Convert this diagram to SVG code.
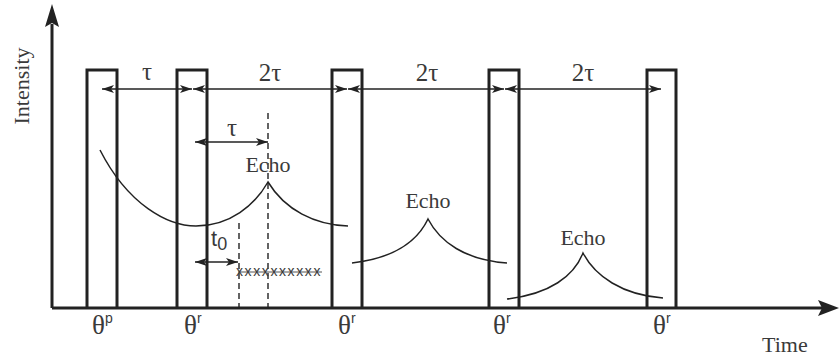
<svg xmlns="http://www.w3.org/2000/svg" width="839" height="360" viewBox="0 0 839 360">
<style>
.pulse{fill:none;stroke:#222;stroke-width:3}
.axis{fill:none;stroke:#222;stroke-width:3}
.dim{fill:none;stroke:#222;stroke-width:1.4}
.curve{fill:none;stroke:#222;stroke-width:1.5}
.dash{fill:none;stroke:#222;stroke-width:1.4;stroke-dasharray:6,4}
.serif{font-family:"Liberation Serif","Times New Roman",serif;fill:#3a3a3a}
.sans{font-family:"Liberation Sans",Arial,sans-serif;fill:#3a3a3a}
</style>
<defs>
<marker id="ah" viewBox="0 0 12 8" refX="12" refY="4" markerWidth="12" markerHeight="8" markerUnits="userSpaceOnUse" orient="auto-start-reverse">
<path d="M0,0 L12,4 L0,8 L3,4 Z" fill="#222"/>
</marker>
</defs>
<rect width="839" height="360" fill="#fff"/>
<g id="axes">
<path class="axis" d="M52,308 V24"/>
<path d="M52,4 L59,27 L52,23 L45,27 Z" fill="#222"/>
<path class="axis" d="M52,308 H822"/>
<path d="M839,308 L818,300 L822,308 L818,316 Z" fill="#222"/>
<text class="serif" font-size="22" text-anchor="middle" transform="translate(29,86) rotate(-90)">Intensity</text>
<text class="serif" font-size="22" x="762" y="352">Time</text>
</g>
<g id="pulse1"><path class="pulse" d="M87,308 V70 H117 V308"/><text class="serif" font-size="27" x="92" y="334">θ<tspan class="sans" font-size="14" dy="-11">p</tspan></text></g>
<g id="pulse2"><path class="pulse" d="M177,308 V70 H207 V308"/><text class="serif" font-size="27" x="184" y="334">θ<tspan class="sans" font-size="14" dy="-11">r</tspan></text></g>
<g id="pulse3"><path class="pulse" d="M332,308 V70 H362 V308"/><text class="serif" font-size="27" x="338" y="334">θ<tspan class="sans" font-size="14" dy="-11">r</tspan></text></g>
<g id="pulse4"><path class="pulse" d="M489,308 V70 H519 V308"/><text class="serif" font-size="27" x="493" y="334">θ<tspan class="sans" font-size="14" dy="-11">r</tspan></text></g>
<g id="pulse5"><path class="pulse" d="M647,308 V70 H676 V308"/><text class="serif" font-size="27" x="653" y="334">θ<tspan class="sans" font-size="14" dy="-11">r</tspan></text></g>
<g id="connectors">
<path class="dim" d="M102,89 H192" marker-start="url(#ah)" marker-end="url(#ah)"/>
<path class="dim" d="M193,89 H347" marker-start="url(#ah)" marker-end="url(#ah)"/>
<path class="dim" d="M348,89 H504" marker-start="url(#ah)" marker-end="url(#ah)"/>
<path class="dim" d="M505,89 H661" marker-start="url(#ah)" marker-end="url(#ah)"/>
<path class="dim" d="M195,142 H268" marker-start="url(#ah)" marker-end="url(#ah)"/>
<path class="dim" d="M195,262 H238" marker-start="url(#ah)" marker-end="url(#ah)"/>
<path class="dash" d="M268,113 V308"/>
<path class="dash" d="M239,223 V308"/>
</g>
<g id="labels">
<text class="serif" font-size="25" x="147" y="80" text-anchor="middle">τ</text>
<text class="serif" font-size="25" x="270" y="81" text-anchor="middle">2τ</text>
<text class="serif" font-size="25" x="427" y="81" text-anchor="middle">2τ</text>
<text class="serif" font-size="25" x="583" y="81" text-anchor="middle">2τ</text>
<text class="serif" font-size="25" x="232" y="136" text-anchor="middle">τ</text>
<text class="sans" font-size="22" x="211" y="246">t<tspan font-size="18" dy="4">0</tspan></text>
</g>
<g id="echo1">
<path class="curve" d="M100,150 C128,205 168,226 196,226 C230,226 255,205 268,182 C285,210 315,225 348,226"/>
<text class="serif" font-size="22" x="268" y="172" text-anchor="middle">Echo</text>
</g>
<g id="echo2">
<path class="curve" d="M352,263 C395,258 418,240 428,219 C440,242 465,260 507,263"/>
<text class="serif" font-size="22" x="428" y="208" text-anchor="middle">Echo</text>
</g>
<g id="echo3">
<path class="curve" d="M507,299 C550,294 574,276 583,253 C595,276 622,295 663,298"/>
<text class="serif" font-size="22" x="583" y="245" text-anchor="middle">Echo</text>
</g>
<g id="samples">
<path d="M238,272 H322" stroke="#555" stroke-width="1"/>
<text class="sans" font-size="14" fill="#555" x="236" y="276" letter-spacing="1.6">xxxxxxxxxx</text>
</g>
</svg>
